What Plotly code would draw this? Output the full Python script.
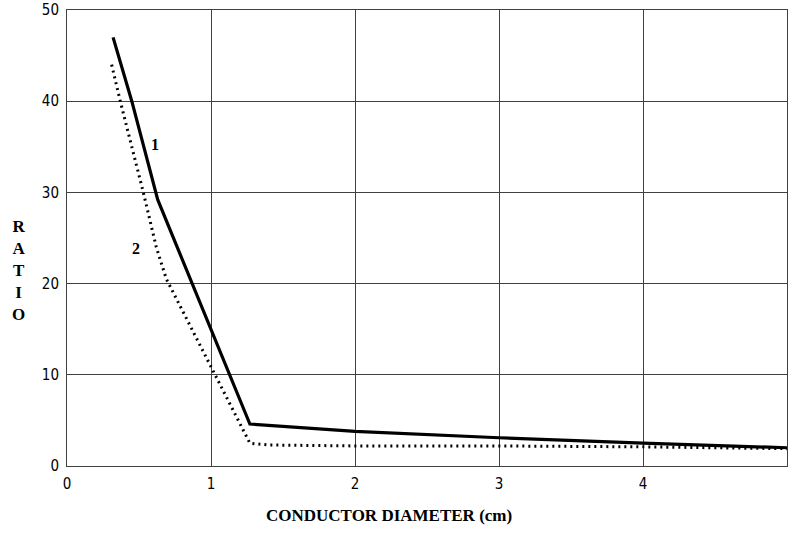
import plotly.graph_objects as go

# Curve 1 (solid)
x1 = [0.32, 0.45, 0.63, 0.88, 1.13, 1.27, 2.0, 3.0, 4.0, 5.0]
y1 = [47.0, 40.0, 29.2, 19.6, 10.0, 4.6, 3.8, 3.1, 2.5, 2.0]

# Curve 2 (dotted)
x2 = [0.31, 0.37, 0.53, 0.62, 0.69, 1.02, 1.27, 1.4, 2.0, 3.0, 4.0, 5.0]
y2 = [44.0, 40.0, 30.0, 24.0, 20.5, 10.3, 2.5, 2.3, 2.2, 2.2, 2.1, 1.9]

xticks = [0, 1, 2, 3, 4, 5]
yticks = [0, 10, 20, 30, 40, 50]

grid = "#404040"
serif = "Liberation Serif, Times New Roman, serif"
tickfont = dict(family="Liberation Sans Narrow, DejaVu Sans Condensed, Liberation Sans, sans-serif",
                size=15, color="black")

fig = go.Figure()
fig.add_trace(go.Scatter(x=x1, y=y1, mode="lines",
                         line=dict(color="black", width=3.2), showlegend=False))
fig.add_trace(go.Scatter(x=x2, y=y2, mode="lines",
                         line=dict(color="black", width=3, dash="2px,4px"), showlegend=False))

axis_common = dict(showgrid=True, gridcolor=grid, gridwidth=1,
                   showline=True, linecolor=grid, linewidth=1, mirror=True,
                   zeroline=False, ticks="", automargin=False, tickfont=tickfont)

fig.update_xaxes(range=[0, 5], tickvals=xticks, ticktext=[str(v) for v in xticks],
                 ticklabelstandoff=4, **axis_common)
fig.update_yaxes(range=[0, 50], tickvals=yticks, ticktext=[str(v) for v in yticks],
                 ticklabelstandoff=4, **axis_common)

fig.add_annotation(x=0.61, y=35.2, text="<b>1</b>", showarrow=False,
                   font=dict(family=serif, size=16, color="black"))
fig.add_annotation(x=0.48, y=23.8, text="<b>2</b>", showarrow=False,
                   font=dict(family=serif, size=16, color="black"))

fig.add_annotation(xref="paper", yref="paper", x=(18 - 67) / 720, y=(466 - 270) / 456,
                   xanchor="center", yanchor="middle",
                   text="<b>R<br>A<br>T<br>I<br>O</b>", showarrow=False,
                   font=dict(family=serif, size=17, color="black"), align="center")
fig.add_annotation(xref="paper", yref="paper", x=(389 - 67) / 720, y=-(515 - 466) / 456,
                   xanchor="center", yanchor="middle",
                   text="<b>CONDUCTOR DIAMETER (cm)</b>", showarrow=False,
                   font=dict(family=serif, size=17, color="black"))

fig.update_layout(template="none", width=788, height=533, autosize=False,
                  margin=dict(l=67, r=1, t=10, b=67),
                  plot_bgcolor="white", paper_bgcolor="white")

fig.write_html("out.html", config={"displayModeBar": False},
               post_script="document.body.style.margin='0';document.body.style.overflow='hidden';")
